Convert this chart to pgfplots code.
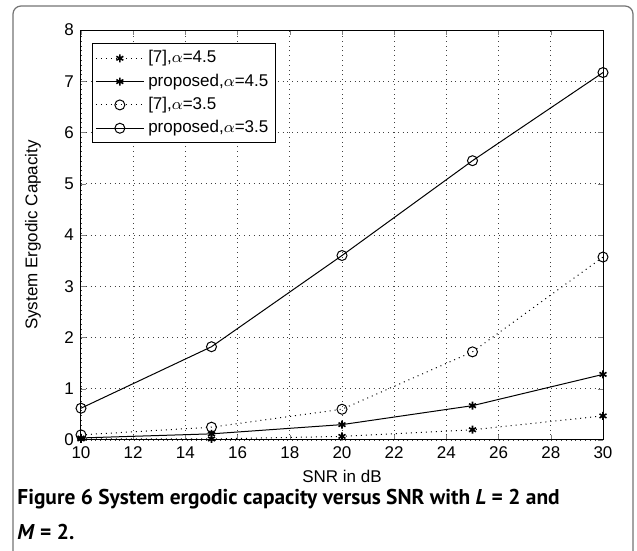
\documentclass[border=0pt]{standalone}
\usepackage{fontspec}
\setmainfont{Liberation Sans}
\newfontfamily\capfont{PT Sans}
\usepackage{pgfplots}
\pgfplotsset{compat=1.18}

\begin{document}
\begin{tikzpicture}
\useasboundingbox (-40.5pt,-55.5pt) rectangle (278pt,220pt);
% figure frame (open at bottom)
\draw[black!55, line width=0.6pt, rounded corners=4pt]
  (-34pt,-55.5pt) -- (-34pt,217pt) -- (276pt,217pt) -- (276pt,-55.5pt);
\begin{axis}[
  at={(0,0)}, anchor=south west,
  width=261pt, height=205pt, scale only axis,
  xmin=10, xmax=30, ymin=0, ymax=8,
  xtick={10,12,...,30}, ytick={0,1,...,8},
  grid=major, major grid style={dotted, black!75, line width=0.4pt},
  tick align=inside, major tick length=2.5pt,
  axis line style={line width=0.5pt},
  tick label style={font=\fontsize{8.5}{10}\selectfont},
  label style={font=\fontsize{8.5}{10}\selectfont},
  /pgf/number format/assume math mode=true,
  xlabel={SNR in dB}, ylabel={System Ergodic Capacity},
  xlabel style={at={(axis description cs:0.5,-0.09)}, anchor=center},
  ylabel style={at={(axis description cs:-0.092,0.5)}, anchor=center},
  legend style={at={(axis description cs:0.021,0.968)}, anchor=north west,
    font=\fontsize{8.5}{10}\selectfont, draw=black, line width=0.5pt,
    row sep=0pt, inner sep=1.5pt},
  legend cell align=left,
  legend image code/.code={\draw[mark repeat=2,mark phase=2]
    plot coordinates {(0cm,0cm)(0.42cm,0cm)(0.84cm,0cm)};},
]
\addplot[black, dotted, line width=0.5pt, mark=asterisk, mark size=2pt, mark options={solid, line width=0.8pt}]
  coordinates {(10,0.02) (15,0.02) (20,0.07) (25,0.2) (30,0.47)};
\addlegendentry{[7],$\alpha$=4.5}
\addplot[black, solid, line width=0.5pt, mark=asterisk, mark size=2pt, mark options={line width=0.8pt}]
  coordinates {(10,0.04) (15,0.12) (20,0.3) (25,0.67) (30,1.28)};
\addlegendentry{proposed,$\alpha$=4.5}
\addplot[black, dotted, line width=0.5pt, mark=o, mark size=2.5pt, mark options={solid}]
  coordinates {(10,0.1) (15,0.25) (20,0.6) (25,1.72) (30,3.57)};
\addlegendentry{[7],$\alpha$=3.5}
\addplot[black, solid, line width=0.5pt, mark=o, mark size=2.5pt]
  coordinates {(10,0.62) (15,1.82) (20,3.6) (25,5.45) (30,7.17)};
\addlegendentry{proposed,$\alpha$=3.5}
\end{axis}
\node[anchor=base west, inner sep=0pt,
  font=\capfont\bfseries\fontsize{10.7}{13}\selectfont] at (-32pt,-32.5pt)
  {Figure 6 System ergodic capacity versus SNR with \textit{L} = 2 and};
\node[anchor=base west, inner sep=0pt,
  font=\capfont\bfseries\fontsize{10.7}{13}\selectfont] at (-32pt,-50pt)
  {\textit{M} = 2.};
\end{tikzpicture}
\end{document}
